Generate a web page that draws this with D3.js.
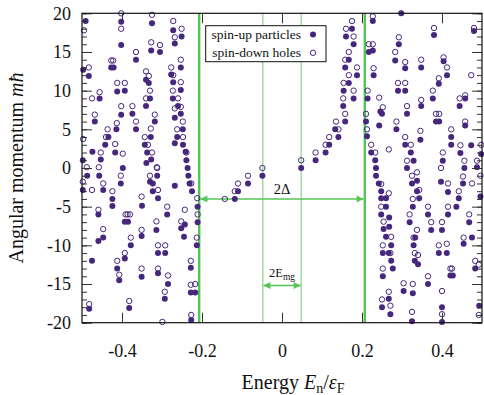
<!DOCTYPE html>
<html><head><meta charset="utf-8">
<script src="https://cdn.jsdelivr.net/npm/d3@7"></script>
<style>body{margin:0;background:#fff}svg{display:block}text{font-family:"Liberation Serif","Times New Roman",serif;fill:#111}</style>
</head><body><svg id="c" width="484" height="395"></svg>
<script>
// ---- data (energy E_n/eps_F, angular momentum m) ----
const upParticles = [
[-0.491,19],[-0.402,18.9],[-0.402,15.9],[-0.365,14],[-0.427,13],[-0.421,13],[-0.497,12.7],[-0.483,11.9],[-0.412,9.9],[-0.393,10],[-0.456,9],[-0.402,6.9],[-0.374,7],[-0.468,6],[-0.365,5],[-0.414,5],[-0.434,4],[-0.442,3],[-0.417,2],[-0.474,2.1],[-0.453,1.1],[-0.498,1],[-0.398,0],
[-0.325,18.7],[-0.272,17.8],[-0.251,17],[-0.268,16.1],[-0.327,15.2],[-0.305,15],[-0.253,13],[-0.34,11.4],[-0.333,11],[-0.277,12.1],[-0.272,11.1],[-0.253,10.1],[-0.33,9],[-0.34,8],[-0.273,9],[-0.26,8],[-0.268,6.5],[-0.253,7],[-0.318,6],[-0.248,5],[-0.328,4],[-0.343,3],[-0.262,4],[-0.337,2],[-0.268,3.2],[-0.327,1.1],[-0.339,0.65],
[-0.2475,3],[-0.241,2.1],[-0.239,1],[-0.236,0],[-0.234,-1],[-0.231,-2],[-0.225,-3],[-0.211,-5],[-0.211,-7],
[-0.487,-1],[-0.457,-1],[-0.498,-2.84],[-0.447,-2.84],[-0.424,-4],[-0.424,-4.9],[-0.403,-2],[-0.35,-4.87],[-0.459,-6],[-0.393,-6.94],[-0.385,-6.94],[-0.447,-9],[-0.459,-9.44],[-0.351,-8.8],[-0.378,-10],[-0.393,-11.7],[-0.475,-12],[-0.412,-13],[-0.407,-14.5],[-0.351,-14.05],[-0.482,-18.2],[-0.382,-18.1],
[-0.312,-1],[-0.33,-1.77],[-0.323,-2],[-0.323,-3],[-0.31,-3.9],[-0.268,-2.3],[-0.287,-6],[-0.252,-7.8],[-0.243,-7.3],[-0.245,-8.9],[-0.314,-8],[-0.31,-11],[-0.292,-11],[-0.31,-13.6],[-0.285,-15],[-0.293,-16.9],[-0.228,-12.9],[-0.228,-16.1],[-0.217,-16.1],[-0.227,-19.65],[-0.213,-10],
[-0.118,-4],[-0.11,-3],[-0.085,-2],[-0.049,-1],[0.048,0],[0.084,1],[0.109,2],[0.118,3],[0.141,4],[0.133,5],[0.158,6],[0.153,8],[0.179,9],[0.154,10],[0.167,11],[0.1875,12],[0.158,13],[0.167,14],[0.179,16],[0.16,17],[0.175,18],
[0.227,19],[0.298,20],[0.292,16],[0.217,15],[0.227,15.2],[0.283,13.9],[0.38,17.2],[0.48,17.7],[0.308,12.9],[0.348,13],[0.404,13.8],[0.4125,12],[0.229,12],[0.392,10.9],[0.29,10],[0.308,10],[0.214,9],[0.377,9],[0.246,7.3],[0.25,7],[0.348,8],[0.3125,7],[0.444,8],[0.458,9],[0.21,6],[0.385,6],[0.393,6],[0.458,5.5],[0.243,5.5],[0.286,5],[0.2125,4.1],[0.346,3.66],[0.423,4],[0.423,3],[0.308,3],[0.322,2],[0.223,2],[0.446,1.94],[0.473,2.94],[0.498,1.8],[0.402,0.94],[0.3125,0],[0.329,0.94],[0.233,1],[0.235,0],[0.456,0],[0.4875,0.1],
[0.235,-1],[0.242,-2],[0.248,-3],[0.248,-3.9],[0.26,-3.9],[0.26,-5],[0.248,-6],[0.268,-6.4],[0.254,-7.9],[0.268,-7.6],[0.26,-8.9],[0.273,-10],[0.252,-11],[0.267,-11],[0.273,-12],[0.277,-13],[0.252,-14],[0.267,-16.9],[0.25,-18],[0.271,-18.9],
[0.325,-2],[0.3375,-1.64],[0.343,-3.9],[0.3375,-3],[0.327,-5],[0.319,-7],[0.333,-9],[0.329,-10],[0.332,-12],[0.34,-12.45],[0.3975,-1.77],[0.415,-3.1],[0.442,-3.9],[0.4525,-2],[0.496,-3.7],[0.365,-6],[0.415,-6],[0.436,-5],[0.373,-8],[0.4,-8],[0.468,-7],[0.392,-11],[0.412,-11],[0.454,-9.8],[0.475,-9],[0.483,-13],[0.421,-13.9],[0.427,-13.9],[0.365,-15],[0.304,-15.9],[0.327,-16.2],[0.4,-18],[0.4,-19.9],[0.325,-19.8],[0.493,-17.8]
];
const downHoles = [
[-0.495,17.8],[-0.402,20],[-0.402,18],[-0.365,15],[-0.427,13.9],[-0.422,13.9],[-0.483,13],[-0.412,11],[-0.393,11],[-0.456,9.8],[-0.475,9],[-0.402,8],[-0.374,8],[-0.468,6.9],[-0.365,6],[-0.436,5],[-0.413,5.8],[-0.44,4],[-0.497,3.75],[-0.417,3.1],[-0.398,1.85],[-0.453,2],[-0.488,0.1],[-0.458,0.1],
[-0.325,19.8],[-0.272,19],[-0.251,18],[-0.268,16.9],[-0.327,16.25],[-0.305,15.9],[-0.253,14],[-0.34,12.5],[-0.333,11.9],[-0.277,13],[-0.272,12],[-0.253,11.1],[-0.33,10],[-0.34,9],[-0.273,10],[-0.26,9],[-0.268,7.7],[-0.253,7.9],[-0.318,6.9],[-0.248,6],[-0.328,5.1],[-0.343,4],[-0.262,5],[-0.335,3],[-0.325,2],[-0.313,0.1],
[-0.2475,4],[-0.239,2],[-0.227,-2],[-0.212,-3.9],[-0.211,-6],[-0.213,-9],
[-0.498,-1.77],[-0.447,-2],[-0.475,-2.84],[-0.424,-3],[-0.403,-1],[-0.351,-3.7],[-0.459,-5.4],[-0.391,-6],[-0.386,-6],[-0.38,-6],[-0.447,-7.9],[-0.351,-8],[-0.378,-9],[-0.393,-11],[-0.412,-12],[-0.407,-13.8],[-0.351,-13],[-0.482,-17.6],[-0.382,-17.2],
[-0.312,0],[-0.33,-1],[-0.31,-2.84],[-0.287,-5],[-0.243,-5.4],[-0.252,-6.9],[-0.314,-6.9],[-0.31,-10],[-0.292,-10],[-0.31,-13],[-0.285,-13.9],[-0.293,-16],[-0.299,-19.9],[-0.228,-12],[-0.228,-15.1],[-0.217,-15],[-0.227,-19],
[-0.143,-4],[-0.118,-3],[-0.11,-2],[-0.085,-1],[-0.049,0],[0.048,1],[0.084,2],[0.109,3],[0.118,4],[0.141,5],[0.135,6],[0.158,7],[0.153,9],[0.179,10],[0.154,11],[0.167,12],[0.1875,13],[0.158,14],[0.167,15],[0.179,17],[0.16,18],[0.175,19],
[0.227,19.6],[0.292,16.9],[0.217,16],[0.227,16],[0.283,15],[0.38,18.1],[0.48,18.1],[0.308,13.7],[0.348,14],[0.404,14.3],[0.4125,13],[0.229,12.9],[0.473,12],[0.392,11.6],[0.29,11],[0.308,11],[0.214,10],[0.377,10],[0.243,9.1],[0.252,7.85],[0.348,8.8],[0.3125,8],[0.444,9],[0.458,9.4],[0.21,7],[0.385,7],[0.393,7],[0.458,6],[0.286,6],[0.2125,5],[0.346,4.8],[0.423,5],[0.308,4],[0.322,3],[0.223,3],[0.233,2],[0.267,2.4],[0.446,2.94],[0.498,3],[0.402,2],[0.3125,0.94],[0.456,0.94],[0.4875,0.94],
[0.248,-2.07],[0.267,-3.27],[0.248,-5],[0.254,-6.94],[0.273,-8.9],[0.252,-10],[0.271,-11],[0.252,-13],[0.267,-16],[0.25,-17],[0.271,-17.8],
[0.3375,-0.56],[0.325,-1],[0.343,-2.84],[0.327,-4],[0.319,-6],[0.3375,-8],[0.329,-9],[0.332,-11],[0.34,-11.25],[0.3975,0],[0.415,-2],[0.442,-3],[0.4525,-1.1],[0.475,-2],[0.496,-1],[0.365,-5],[0.415,-5],[0.373,-7],[0.4,-7],[0.468,-6],[0.392,-10],[0.412,-9.8],[0.454,-9],[0.483,-12],[0.492,-12.5],[0.421,-13],[0.425,-13],[0.365,-14],[0.304,-14.9],[0.327,-15],[0.4,-15.9],[0.4,-18.9],[0.325,-18.6],[0.492,-19]
];
const xTicks = [-0.4, -0.2, 0, 0.2, 0.4];
const xTickLabels = ["-0.4", "-0.2", "0", "0.2", "0.4"];
const yTicks = [-20, -15, -10, -5, 0, 5, 10, 15, 20];
const yTickLabels = ["-20", "-15", "-10", "-5", "0", "5", "10", "15", "20"];
const gapDelta = 0.207;     // half-width of 2Δ
const gapEmg = 0.048;       // half-width of 2E_mg
const arrowDeltaM = -4;     // m level of 2Δ arrow
const arrowEmgM = -15.2;    // m level of 2E_mg arrow
const legendLabels = ["spin-up particles", "spin-down holes"];

// ---- drawing ----
const svg = d3.select("#c");
const L = 82, R = 482, T = 13.3, B = 322.7;
const x = d3.scaleLinear().domain([-0.5, 0.5]).range([L, R]);
const y = d3.scaleLinear().domain([-20, 20]).range([B, T]);
const purple = "#47277e";
const greenThick = "#55c455", greenThin = "#8fd88f";

// green gap lines
[-gapDelta, gapDelta].forEach(e => svg.append("line").attr("x1", x(e)).attr("x2", x(e)).attr("y1", T).attr("y2", B)
  .attr("stroke", greenThick).attr("stroke-width", 2.4));
[-gapEmg, gapEmg].forEach(e => svg.append("line").attr("x1", x(e)).attr("x2", x(e)).attr("y1", T).attr("y2", B)
  .attr("stroke", greenThin).attr("stroke-width", 1.3));

// arrows
const defs = svg.append("defs");
defs.append("marker").attr("id", "ah").attr("viewBox", "0 0 10 10").attr("refX", 10).attr("refY", 5)
  .attr("markerWidth", 9).attr("markerHeight", 7).attr("markerUnits", "userSpaceOnUse").attr("orient", "auto-start-reverse")
  .append("path").attr("d", "M0,0L10,5L0,10z").attr("fill", greenThick);
svg.append("line").attr("x1", x(-gapDelta) + 1.2).attr("x2", x(gapDelta) - 1.2).attr("y1", y(arrowDeltaM)).attr("y2", y(arrowDeltaM))
  .attr("stroke", greenThick).attr("stroke-width", 1.5).attr("marker-start", "url(#ah)").attr("marker-end", "url(#ah)");
svg.append("line").attr("x1", x(-gapEmg) + 0.6).attr("x2", x(gapEmg) - 0.6).attr("y1", y(arrowEmgM)).attr("y2", y(arrowEmgM))
  .attr("stroke", greenThick).attr("stroke-width", 1.5).attr("marker-start", "url(#ah)").attr("marker-end", "url(#ah)");
svg.append("text").attr("x", x(0)).attr("y", y(arrowDeltaM) - 5).attr("text-anchor", "middle").attr("font-size", 14.5).text("2Δ");
const te = svg.append("text").attr("x", x(0)).attr("y", y(arrowEmgM) - 8.5).attr("text-anchor", "middle").attr("font-size", 12.5);
te.append("tspan").text("2E");
te.append("tspan").attr("font-size", 9.5).attr("dy", 3).text("mg");

// points
svg.append("g").selectAll("circle").data(upParticles).join("circle")
  .attr("cx", d => x(d[0])).attr("cy", d => y(d[1])).attr("r", 3.0).attr("fill", purple);
svg.append("g").selectAll("circle").data(downHoles).join("circle")
  .attr("cx", d => x(d[0])).attr("cy", d => y(d[1])).attr("r", 2.7).attr("fill", "none").attr("stroke", purple).attr("stroke-width", 1.0);

// axes
const minor = d3.range(-20, 21, 1);
function styleAxis(g) { g.select(".domain").remove(); g.selectAll("line").attr("stroke", "#333"); g.selectAll("text").attr("font-family", "Liberation Serif").attr("font-size", 18).attr("fill", "#111"); }
svg.append("g").attr("transform", `translate(${L},0)`).call(d3.axisLeft(y).tickValues(minor).tickSize(-5).tickFormat("")).call(styleAxis);
svg.append("g").attr("transform", `translate(${R},0)`).call(d3.axisRight(y).tickValues(minor).tickSize(-5).tickFormat("")).call(styleAxis);
svg.append("g").attr("transform", `translate(${L},0)`).call(d3.axisLeft(y).tickValues(yTicks).tickSize(-10).tickPadding(11).tickFormat((d, i) => yTickLabels[i])).call(styleAxis);
svg.append("g").attr("transform", `translate(${R},0)`).call(d3.axisRight(y).tickValues(yTicks).tickSize(-10).tickFormat("")).call(styleAxis);
svg.append("g").attr("transform", `translate(0,${B})`).call(d3.axisBottom(x).tickValues(xTicks).tickSize(-10).tickPadding(22).tickFormat((d, i) => xTickLabels[i])).call(styleAxis);
svg.append("g").attr("transform", `translate(0,${T})`).call(d3.axisTop(x).tickValues(xTicks).tickSize(-10).tickFormat("")).call(styleAxis);
svg.append("rect").attr("x", L).attr("y", T).attr("width", R - L).attr("height", B - T).attr("fill", "none").attr("stroke", "#111").attr("stroke-width", 1.2);

// legend
const lg = svg.append("g");
lg.append("rect").attr("x", 205.7).attr("y", 25.7).attr("width", 120.3).attr("height", 36).attr("fill", "#fff").attr("stroke", "#111").attr("stroke-width", 1);
legendLabels.forEach((t, i) => {
  const yy = 34.5 + i * 18.3;
  lg.append("text").attr("x", 301).attr("y", yy + 4.5).attr("text-anchor", "end").attr("font-size", 13.5).text(t);
  if (i === 0) lg.append("circle").attr("cx", 313).attr("cy", yy).attr("r", 3.0).attr("fill", purple);
  else lg.append("circle").attr("cx", 313).attr("cy", yy).attr("r", 2.7).attr("fill", "none").attr("stroke", purple).attr("stroke-width", 1.0);
});

// axis titles
const yl = svg.append("text").attr("transform", `translate(23,${(T + B) / 2}) rotate(-90)`).attr("text-anchor", "middle").attr("font-size", 20);
yl.append("tspan").text("Angular momentum ");
yl.append("tspan").attr("font-style", "italic").text("mħ");
const xl = svg.append("text").attr("x", 293).attr("y", 389).attr("text-anchor", "middle").attr("font-size", 20);
xl.append("tspan").text("Energy ");
xl.append("tspan").attr("font-style", "italic").text("E");
xl.append("tspan").attr("font-size", 14).attr("dy", 4).text("n");
xl.append("tspan").attr("dy", -4).text("/");
xl.append("tspan").attr("font-style", "italic").text("ε");
xl.append("tspan").attr("font-size", 14).attr("dy", 4).text("F");
</script></body></html>
